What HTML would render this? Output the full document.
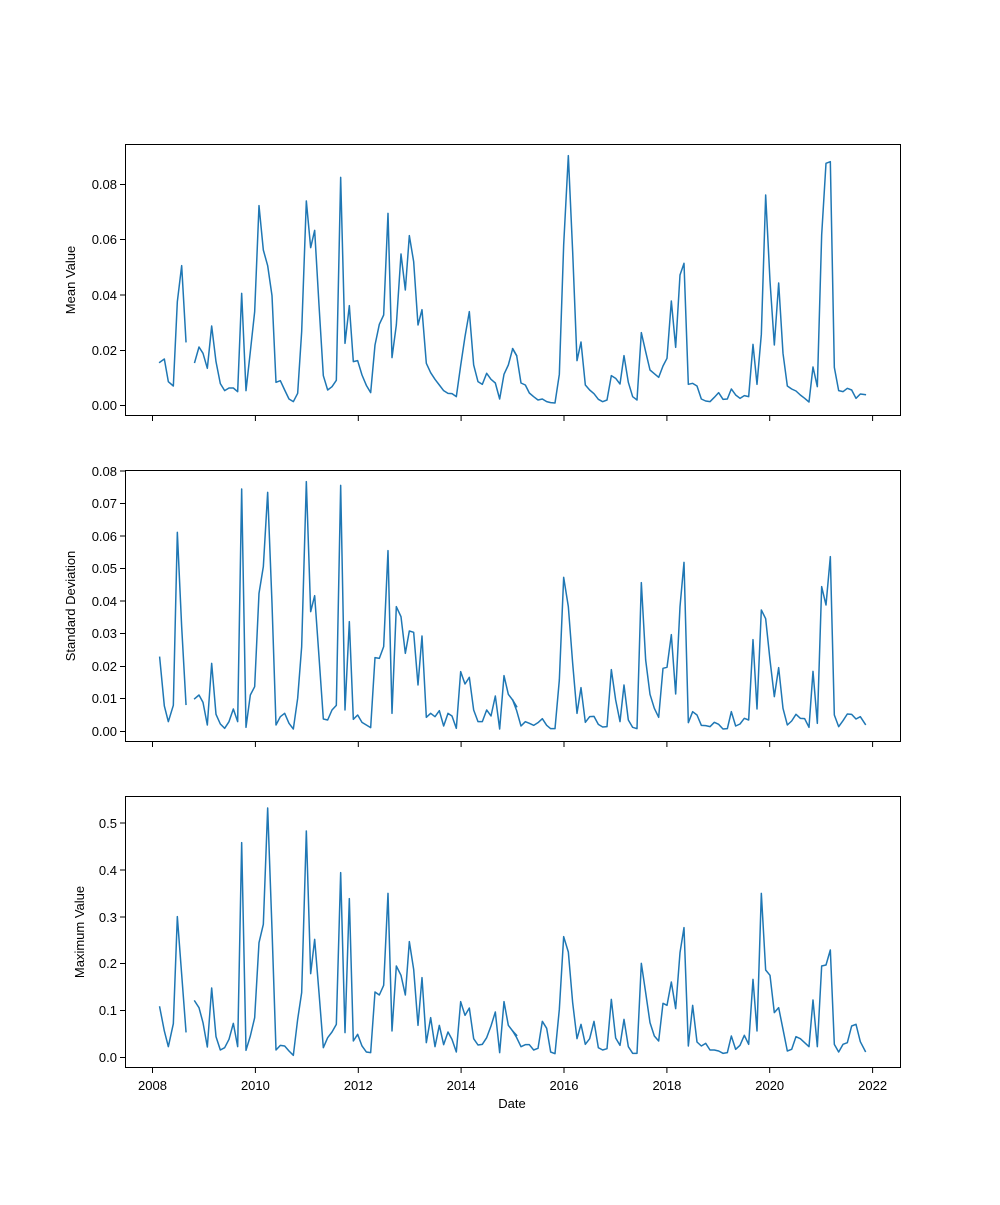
<!DOCTYPE html>
<html><head><meta charset="utf-8"><style>
html,body{margin:0;padding:0;background:#fff}
svg text{font-family:"Liberation Sans","DejaVu Sans",sans-serif;font-size:13px;fill:#000}
</style></head><body>
<svg width="1000" height="1200" viewBox="0 0 1000 1200" xmlns="http://www.w3.org/2000/svg">
<rect width="1000" height="1200" fill="#fff"/>
<defs>
<clipPath id="c1"><rect x="125" y="144" width="775" height="272"/></clipPath>
<clipPath id="c2"><rect x="125" y="470" width="775" height="272"/></clipPath>
<clipPath id="c3"><rect x="125" y="796" width="775" height="272"/></clipPath>
</defs>
<g fill="none" stroke="#1f77b4" stroke-width="4.5" stroke-linejoin="round" stroke-linecap="square">
<g clip-path="url(#c1)"><g transform="translate(125,145) scale(0.33333)">
<polyline points="104,652 118,642 130,710 145,723 157,470 170,362 183,590"/>
<polyline points="209,652 222,606 234,625 247,670 260,543 273,650 286,716 299,737 312,729 325,729 338,740 350,445 363,737 376,620 389,500 402,182 415,315 428,362 441,452 453,712 466,707 479,735 492,762 505,770 518,745 530,560 544,168 557,308 569,256 582,480 595,692 608,735 621,725 634,706 647,97 660,595 673,482 685,650 698,647 711,690 724,721 737,743 750,600 763,538 776,510 789,205 801,638 814,540 828,327 841,435 853,272 866,350 879,540 891,494 904,655 917,683 930,703 943,720 956,737 969,745 981,746 994,755 1007,662 1020,575 1033,500 1046,660 1059,710 1072,718 1085,685 1098,703 1111,714 1124,762 1137,688 1150,660 1163,611 1175,632"/>
</g><g transform="translate(510,145) scale(0.33333)">
<polyline points="8,611 20,632 33,714 46,720 58,744 71,755 84,765 97,762 110,770 122,773 135,774 148,688 161,300 175,32 188,320 201,647 213,591 226,720 239,735 252,746 265,763 278,770 291,765 304,692 317,700 330,717 342,632 355,712 368,755 381,765 394,563 407,620 420,675 433,686 446,697 459,663 471,640 484,468 497,607 510,390 522,355 535,718 548,715 561,723 574,762 587,768 600,770 613,757 626,743 639,763 652,762 664,732 677,750 690,760 703,752 716,755 729,598 741,718 754,568 767,150 780,408 793,600 806,414 819,625 832,723 845,732 858,738 871,750 884,760 897,771 909,666 922,725 935,270 948,55 961,50 973,667 986,737 999,740 1012,730 1025,735 1038,760 1051,747 1066,749"/>
</g></g>
<g clip-path="url(#c2)"><g transform="translate(125,470) scale(0.33333)">
<polyline points="104,562 118,708 130,755 145,706 157,187 170,470 183,703"/>
<polyline points="209,686 222,675 234,697 247,765 260,580 273,733 286,762 299,775 312,755 325,717 338,755 350,57 363,772 376,675 389,650 402,370 415,290 428,67 441,400 453,765 466,740 479,730 492,760 505,777 518,685 530,530 544,35 557,425 569,377 582,560 595,747 608,750 621,720 634,706 647,46 660,720 673,455 685,748 698,735 711,757 724,765 737,773 750,563 763,565 776,530 789,242 801,730 814,410 828,440 841,550 853,483 866,487 879,645 891,498 904,742 917,730 930,740 943,722 956,768 969,730 981,738 994,775 1007,605 1020,642 1033,622 1046,720 1059,755 1072,755 1085,720 1098,738 1111,678 1124,777 1137,617 1150,673 1163,690 1175,710"/>
</g><g transform="translate(510,470) scale(0.33333)">
<polyline points="8,690 20,722 33,768 46,755 58,760 71,766 84,758 97,746 110,766 122,776 135,776 148,630 161,322 175,410 188,580 201,730 213,653 226,757 239,740 252,739 265,763 278,771 291,770 304,599 317,690 330,755 342,645 355,750 368,772 381,776 394,338 407,570 420,673 433,715 446,742 459,595 471,592 484,494 497,672 510,410 522,277 535,758 548,725 561,735 574,766 587,767 600,770 613,757 626,763 639,777 652,776 664,725 677,768 690,762 703,745 716,750 729,509 741,717 754,420 767,446 780,570 793,680 806,593 819,715 832,765 845,753 858,733 871,745 884,746 897,772 909,604 922,760 935,350 948,405 961,260 973,735 986,770 999,752 1012,732 1025,733 1038,747 1051,740 1066,763"/>
</g></g>
<g clip-path="url(#c3)"><g transform="translate(125,796) scale(0.33333)">
<polyline points="104,633 118,705 130,752 145,683 157,362 170,535 183,707"/>
<polyline points="209,615 222,635 234,680 247,753 260,576 273,722 286,762 299,755 312,730 325,682 338,752 350,140 363,763 376,720 389,665 402,440 415,385 428,36 441,400 453,762 466,748 479,750 492,765 505,778 518,670 530,590 544,105 557,533 569,430 582,590 595,755 608,725 621,708 634,685 647,230 660,710 673,308 685,735 698,715 711,750 724,768 737,770 750,588 763,597 776,568 789,292 801,705 814,510 828,538 841,597 853,437 866,520 879,688 891,545 904,740 917,665 930,752 943,688 956,746 969,708 981,730 994,768 1007,617 1020,658 1033,636 1046,728 1059,747 1072,745 1085,725 1098,690 1111,648 1124,770 1137,617 1150,688 1163,705 1175,718"/>
</g><g transform="translate(510,796) scale(0.33333)">
<polyline points="8,705 20,725 33,752 46,746 58,746 71,762 84,757 97,676 110,697 122,768 135,773 148,640 161,422 175,468 188,620 201,728 213,685 226,745 239,728 252,676 265,755 278,762 291,758 304,610 317,726 330,748 342,670 355,752 368,772 381,772 394,502 407,590 420,680 433,720 446,735 459,622 471,628 484,558 497,638 510,470 522,395 535,750 548,628 561,738 574,750 587,742 600,762 613,762 626,765 639,772 652,770 664,720 677,760 690,748 703,718 716,745 729,550 741,705 754,292 767,522 780,538 793,650 806,635 819,700 832,765 845,760 858,722 871,728 884,740 897,752 909,612 922,752 935,510 948,507 961,462 973,745 986,768 999,745 1012,740 1025,690 1038,685 1051,737 1066,766"/>
</g></g>
</g>
<g fill="none" stroke="#000" stroke-width="1">
<rect x="125.5" y="144.5" width="775" height="271"/>
<rect x="125.5" y="470.5" width="775" height="271"/>
<rect x="125.5" y="796.5" width="775" height="271"/>
<path d="M152.5,416v5M255.4,416v5M358.3,416v5M461.1,416v5M564,416v5M666.9,416v5M769.7,416v5M872.6,416v5"/>
<path d="M152.5,742v5M255.4,742v5M358.3,742v5M461.1,742v5M564,742v5M666.9,742v5M769.7,742v5M872.6,742v5"/>
<path d="M152.5,1068v5M255.4,1068v5M358.3,1068v5M461.1,1068v5M564,1068v5M666.9,1068v5M769.7,1068v5M872.6,1068v5"/>
<path d="M125,405.5h-5M125,350.5h-5M125,295h-5M125,239.5h-5M125,184.5h-5"/>
<path d="M125,731.5h-5M125,698.5h-5M125,666.5h-5M125,633.5h-5M125,601h-5M125,568.5h-5M125,536h-5M125,503.5h-5M125,471h-5"/>
<path d="M125,1057.5h-5M125,1010.5h-5M125,963.5h-5M125,917h-5M125,870h-5M125,823h-5"/>
</g>
<g text-anchor="end">
<text x="117" y="410">0.00</text><text x="117" y="355">0.02</text><text x="117" y="300">0.04</text><text x="117" y="244">0.06</text><text x="117" y="189">0.08</text>
<text x="117" y="736">0.00</text><text x="117" y="703">0.01</text><text x="117" y="671">0.02</text><text x="117" y="638">0.03</text><text x="117" y="606">0.04</text><text x="117" y="573">0.05</text><text x="117" y="541">0.06</text><text x="117" y="508">0.07</text><text x="117" y="476">0.08</text>
<text x="117" y="1062">0.0</text><text x="117" y="1015">0.1</text><text x="117" y="968">0.2</text><text x="117" y="922">0.3</text><text x="117" y="875">0.4</text><text x="117" y="828">0.5</text>
</g>
<g text-anchor="middle">
<text x="152.5" y="1090">2008</text><text x="255.4" y="1090">2010</text><text x="358.3" y="1090">2012</text><text x="461.1" y="1090">2014</text><text x="564" y="1090">2016</text><text x="666.9" y="1090">2018</text><text x="769.7" y="1090">2020</text><text x="872.6" y="1090">2022</text>
<text x="512" y="1108">Date</text>
<text transform="translate(75,280) rotate(-90)">Mean Value</text>
<text transform="translate(75,606) rotate(-90)">Standard Deviation</text>
<text transform="translate(84,932) rotate(-90)">Maximum Value</text>
</g>
</svg>
</body></html>
